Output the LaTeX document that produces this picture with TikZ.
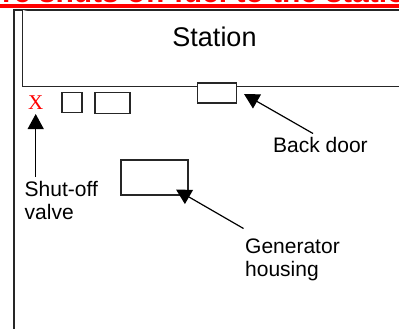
\documentclass[tikz,border=0pt]{standalone}
\usepackage{fontspec}
\setmainfont{Liberation Sans}
\newfontfamily\serifx{Liberation Serif}
\usetikzlibrary{arrows.meta,positioning}
\tikzset{
  wall/.style={draw=black!85, line width=1.5pt, fill=white},
  callout/.style={draw=black, line width=1.2pt, -{Triangle[length=15pt,width=16pt]}},
  lbl/.style={font=\fontsize{21pt}{23.3pt}\selectfont, align=left, inner sep=0pt, anchor=north west},
}
\begin{document}
\begin{tikzpicture}[x=1pt,y=-1pt]
\useasboundingbox (0,0) rectangle (399,329);
\clip (0,0) rectangle (399,329);
% title strip
\node[text=red, font=\bfseries\fontsize{30pt}{32pt}\selectfont, anchor=base west, inner sep=0pt] (title) at (2,3) {re shuts off fuel to the station};
\draw[red, line width=4pt] (0,6) -- (399,6);
% outer wall
\draw[wall, fill=none] (14,329) -- (14,10) -- (399,10);
% station
\draw[wall] (22.5,10) -- (22.5,86.6) -- (399,86.6);
\node[font=\fontsize{27pt}{30pt}\selectfont] (station) at (214.5,37) {Station};
\node[wall, minimum width=39pt, minimum height=19.5pt, inner sep=0pt] (door) at (217,93) {};
\node[text=red, font=\serifx\fontsize{21pt}{24pt}\selectfont, inner sep=0pt] (valve) at (35.7,103) {X};
\node[wall, minimum width=20pt, minimum height=20pt, inner sep=0pt] (tank) at (72,102.5) {};
\node[wall, minimum width=35pt, minimum height=21pt, inner sep=0pt] (pump) at (112.5,103) {};
\node[wall, fill=none, minimum width=67pt, minimum height=35pt, inner sep=0pt] (housing) at (154.5,177.5) {};
% labels
\node[lbl] (doorlbl) at (273,137.5) {Back door};
\node[lbl] (valvelbl) at (24.5,181) {Shut-off\\valve};
\node[lbl] (genlbl) at (245,238.5) {Generator\\housing};
% pointers
\coordinate (doortip) at (244,94);
\coordinate (doortail) at (313,133.5);
\coordinate (valvetip) at (35.7,114);
\coordinate (valvetail) at (35.7,177);
\coordinate (gentip) at (176,189.5);
\coordinate (gentail) at (243.5,228.5);
\draw[callout] (doortail) -- (doortip);
\draw[callout] (valvetail) -- (valvetip);
\draw[callout] (gentail) -- (gentip);
\end{tikzpicture}
\end{document}
